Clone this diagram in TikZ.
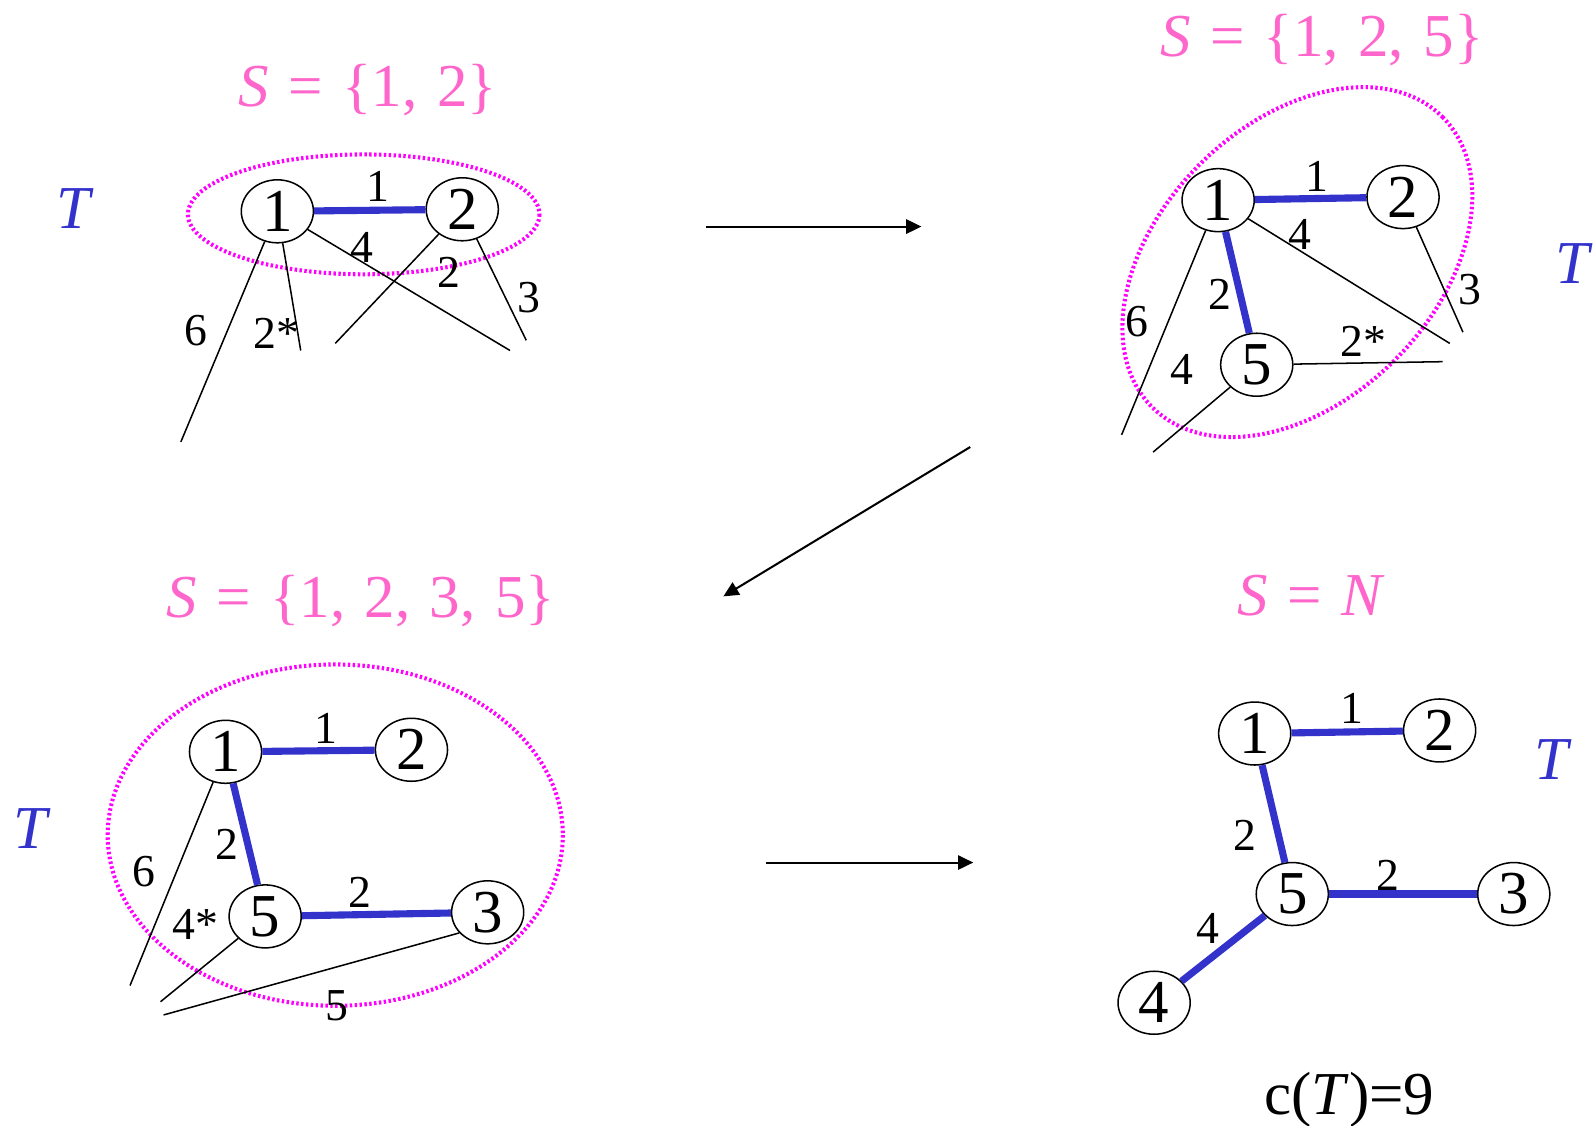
\documentclass[tikz,border=0pt]{standalone}
\usepackage{fontspec}
\setmainfont{Liberation Serif}
\usetikzlibrary{shapes.geometric,arrows.meta}
\definecolor{tblue}{HTML}{3333CC}
\definecolor{spink}{HTML}{FF66CC}
\definecolor{dotmag}{HTML}{FF00FF}
\begin{document}
\begin{tikzpicture}[x=0.5pt,y=-0.5pt,
 vtx/.style={ellipse,draw,line width=0.75pt,minimum width=35.5pt,minimum height=31pt,inner sep=0pt,font=\fontsize{30}{31}\selectfont},
 tree/.style={draw=tblue,line width=3.5pt},
 plain/.style={draw,line width=0.75pt},
 lab/.style={font=\fontsize{22.5}{24}\selectfont,inner sep=0pt},
 title/.style={text=spink,font={\fontsize{30}{32}\selectfont\spaceskip=0.32em\relax},inner sep=0pt,anchor=base},
 tlab/.style={text=tblue,font=\fontsize{30}{32}\selectfont\itshape,inner sep=0pt,anchor=base},
 setring/.style={draw=dotmag,line width=2pt,dash pattern=on 1.2pt off 1.2pt},
 flow/.style={line width=1pt,-{Triangle[length=7.5pt,width=7pt]}}]
\useasboundingbox (0,0) rectangle (1568,1108);

% ---------- panel 1 ----------
\node[title] (t1) at (362,105) {\textit{S} = \{1, 2\}};
\node[tlab] (tt1) at (72,225) {T};
\draw[setring] (358,211) ellipse [x radius=173, y radius=59];
\node[vtx] (a1) at (273,208) {1};
\node[vtx] (a2) at (455,206) {2};
\draw[tree] (a1) -- (a2);
\coordinate (a6e) at (178,435);
\coordinate (a2se) at (296,345);
\coordinate (a4e) at (502,345);
\coordinate (b2e) at (330,338);
\coordinate (a3e) at (518,335);
\draw[plain] (a1) -- (a6e);
\draw[plain] (a1) -- (a2se);
\draw[plain] (a1) -- (a4e);
\draw[plain] (a2) -- (b2e);
\draw[plain] (a2) -- (a3e);
\node[lab] (la1) at (372,183) {1};
\node[lab] (la6) at (193,325) {6};
\node[lab] (la2s) at (272,328) {2*};
\node[lab] (la4) at (356,244) {4};
\node[lab] (la2) at (442,268) {2};
\node[lab] (la3) at (521,293) {3};

% ---------- panel 2 ----------
\node[title] (t2) at (1301,56) {\textit{S} = \{1, 2, 5\}};
\node[tlab] (tt2) at (1548,279) {T};
\draw[setring, rotate around={45:(1277,258)}] (1277,258) ellipse [x radius=202, y radius=136];
\node[vtx] (b1) at (1199,197) {1};
\node[vtx] (b2) at (1381,194) {2};
\node[vtx] (b5) at (1237,359) {5};
\draw[tree] (b1) -- (b2);
\draw[tree] (b1) -- (b5);
\coordinate (b6e) at (1104,428);
\coordinate (b4e) at (1427,338);
\coordinate (b3e) at (1440,327);
\coordinate (b2se) at (1420,356);
\coordinate (b54e) at (1135,445);
\draw[plain] (b1) -- (b6e);
\draw[plain] (b1) -- (b4e);
\draw[plain] (b2) -- (b3e);
\draw[plain] (b5) -- (b2se);
\draw[plain] (b5) -- (b54e);
\node[lab] (lb1) at (1296,174) {1};
\node[lab] (lb2) at (1201,290) {2};
\node[lab] (lb6) at (1119,317) {6};
\node[lab] (lb4) at (1280,231) {4};
\node[lab] (lb3) at (1447,285) {3};
\node[lab] (lb2s) at (1342,336) {2*};
\node[lab] (lb54) at (1163,364) {4};

% ---------- panel 3 ----------
\node[title] (t3) at (355,608) {\textit{S} = \{1, 2, 3, 5\}};
\node[tlab] (tt3) at (30,835) {T};
\draw[setring] (330,822) ellipse [x radius=224, y radius=168];
\node[vtx] (c1) at (222,740) {1};
\node[vtx] (c2) at (405,738) {2};
\node[vtx] (c5) at (261,902) {5};
\node[vtx] (c3) at (480,898) {3};
\draw[tree] (c1) -- (c2);
\draw[tree] (c1) -- (c5);
\draw[tree] (c5) -- (c3);
\coordinate (c6e) at (128,970);
\coordinate (c4e) at (158,986);
\coordinate (c35e) at (161,999);
\draw[plain] (c1) -- (c6e);
\draw[plain] (c5) -- (c4e);
\draw[plain] (c3.216) -- (c35e);
\node[lab] (lc1) at (321,717) {1};
\node[lab] (lc2) at (223,831) {2};
\node[lab] (lc2b) at (354,878) {2};
\node[lab] (lc6) at (142,858) {6};
\node[lab] (lc4) at (192,910) {4*};
\node[lab] (lc5) at (332,990) {5};

% ---------- panel 4 ----------
\node[title] (t4) at (1291,606) {\textit{S} = \textit{N}};
\node[tlab] (tt4) at (1527,767) {T};
\node[vtx] (d1) at (1235,722) {1};
\node[vtx] (d2) at (1417,719) {2};
\node[vtx] (d5) at (1272,880) {5};
\node[vtx] (d3) at (1490,880) {3};
\node[vtx] (d4) at (1136,987) {4};
\draw[tree] (d1) -- (d2);
\draw[tree] (d1) -- (d5);
\draw[tree] (d5) -- (d3);
\draw[tree] (d5) -- (d4);
\node[lab] (ld1) at (1331,697) {1};
\node[lab] (ld2) at (1225,822) {2};
\node[lab] (ld2b) at (1366,862) {2};
\node[lab] (ld4) at (1189,914) {4};
\node[font=\fontsize{30}{32}\selectfont,inner sep=0pt,anchor=base] (cost) at (1328,1097) {c(\textit{T})=9};

% ---------- arrows ----------
\coordinate (r1s) at (695,223);
\coordinate (r1e) at (907,223);
\coordinate (r2s) at (955,440);
\coordinate (r2e) at (712,587);
\coordinate (r3s) at (754,849);
\coordinate (r3e) at (958,849);
\draw[flow] (r1s) -- (r1e);
\draw[flow] (r2s) -- (r2e);
\draw[flow] (r3s) -- (r3e);
\end{tikzpicture}
\end{document}
